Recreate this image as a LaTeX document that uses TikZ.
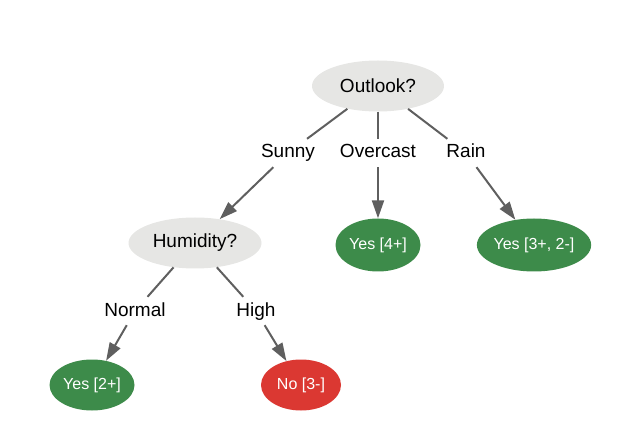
\documentclass[tikz,border=0pt]{standalone}
\usepackage{fontspec}
\setmainfont{Liberation Sans}
\usetikzlibrary{arrows.meta,positioning,shapes.geometric}

\definecolor{askgray}{RGB}{230,230,228}
\definecolor{yesgreen}{RGB}{61,139,74}
\definecolor{nored}{RGB}{219,56,50}
\definecolor{edgegray}{RGB}{95,95,95}

\begin{document}
\begin{tikzpicture}
  [x=1pt,y=1pt,on grid,>={Triangle[length=18pt,width=12pt]},
   question/.style={ellipse,fill=askgray,inner sep=0pt,minimum height=51pt,
     font=\fontsize{19}{22}\selectfont},
   yes leaf/.style={ellipse,fill=yesgreen,text=white,inner sep=0pt,minimum height=53pt,
     font=\fontsize{16}{19}\selectfont},
   no leaf/.style={yes leaf,fill=nored},
   branch/.style={inner sep=5pt,text height=14pt,text depth=4pt,font=\fontsize{19}{22}\selectfont},
   link/.style={draw=edgegray,line width=2pt}]

  \useasboundingbox (0,0) rectangle (626,442);

  % Root and its branches
  \node [question,minimum width=132pt] (outlook) at (378,356) {Outlook?};
  \node [branch] (sunny)    [below left=67pt and 90pt of outlook]  {Sunny};
  \node [branch] (overcast) [below=67pt of outlook]                {Overcast};
  \node [branch] (rain)     [below right=67pt and 88pt of outlook] {Rain};

  \node [question,minimum width=133pt] (humidity) [below left=90pt and 93pt of sunny] {Humidity?};
  \node [yes leaf,minimum width=85pt]  (yes4)  [below=92pt of overcast]             {Yes [4+]};
  \node [yes leaf,minimum width=112pt] (yes32) [below right=92pt and 68pt of rain]  {Yes [3+, 2-]};

  % Second level
  \node [branch] (normal) [below left=68pt and 60pt of humidity]  {Normal};
  \node [branch] (high)   [below right=68pt and 61pt of humidity] {High};

  \node [yes leaf,minimum width=85pt,minimum height=51pt] (yes2) [below left=74pt and 43pt of normal] {Yes [2+]};
  \node [no leaf,minimum width=80pt,minimum height=51pt]  (no3)  [below right=74pt and 45pt of high]  {No [3-]};

  \draw [link]    (outlook) -- (sunny);
  \draw [link,->] (sunny) -- (humidity);
  \draw [link]    (outlook) -- (overcast);
  \draw [link,->] (overcast) -- (yes4);
  \draw [link]    (outlook) -- (rain);
  \draw [link,->] (rain) -- (yes32);

  \draw [link]    (humidity) -- (normal);
  \draw [link,->] (normal) -- (yes2);
  \draw [link]    (humidity) -- (high);
  \draw [link,->] (high) -- (no3);

\end{tikzpicture}
\end{document}
